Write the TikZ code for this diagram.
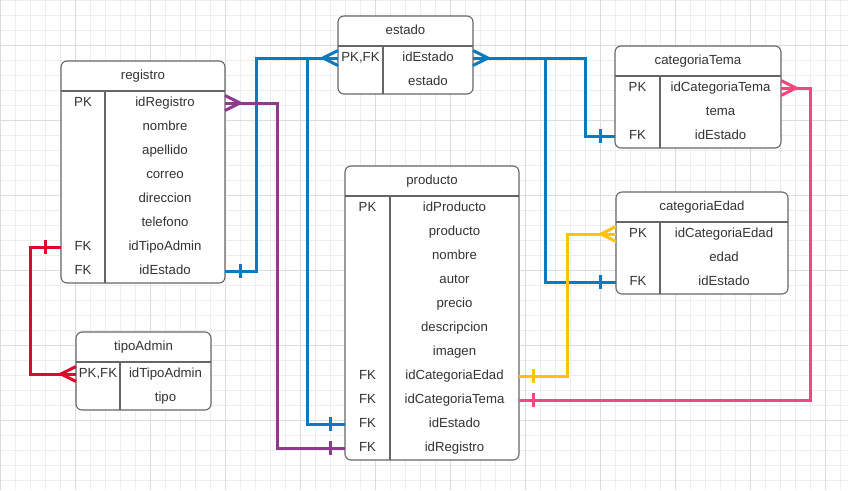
\documentclass[tikz,border=0pt]{standalone}
\usepackage{fontspec}
\setmainfont{Liberation Sans}
\usetikzlibrary{calc}
\definecolor{gridminor}{HTML}{EDEDED}
\definecolor{gridmajor}{HTML}{DCDCDC}
\definecolor{tblborder}{HTML}{666666}
\definecolor{txtcol}{HTML}{333333}
\definecolor{cblue}{HTML}{0A7BC0}
\definecolor{cpurple}{HTML}{8E3B8E}
\definecolor{cred}{HTML}{E2062C}
\definecolor{cpink}{HTML}{F2487D}
\definecolor{cyellow}{HTML}{FFC20E}
\newcommand{\ertable}[8]{%
  \pgfmathsetmacro{\tw}{#4-#2}%
  \pgfmathsetmacro{\th}{30+24*#8}%
  \node[tblbox, anchor=north west, minimum width=\tw pt, minimum height=\th pt] (#1) at (#2,#3) {};
  \draw[tblline] ({#2},{#3+30}) -- ({#4},{#3+30});
  \draw[tblline] ({#5},{#3+30}) -- ({#5},{#3+\th});
  \node[txt] (#1-title) at ({(#2+#4)/2},{#3+15-1.7}) {#6};
  \foreach \k/\t [count=\n] in {#7} {
    \node[txt] (#1-k\n) at ({(#2+#5)/2},{#3+30+24*\n-12-1.7}) {\k};
    \node[txt] (#1-f\n) at ({(#5+#4)/2},{#3+30+24*\n-12-1.7}) {\t};
  }
}
\newcommand{\barmk}[3]{\draw[conn,#1] ($(#2)+(#3,-7)$) -- ($(#2)+(#3,7)$);}
\newcommand{\crowmk}[3]{\draw[conn,#1] ($(#2)+(0,-7.5)$) -- ($(#2)+(#3,0)$) -- ($(#2)+(0,7.5)$);}
\begin{document}
\begin{tikzpicture}[x=1pt,y=-1pt,
  tblbox/.style={draw=tblborder, line width=1.1pt, fill=white, rounded corners=6pt, inner sep=0pt, outer sep=0pt},
  tblline/.style={draw=tblborder, line width=1.1pt},
  txt/.style={text=txtcol, font=\fontsize{13.2}{15}\selectfont, inner sep=0pt, text height=9.5pt, text depth=0pt},
  conn/.style={line width=3pt},
  minorline/.style={draw=gridminor, line width=0.9pt},
  majorline/.style={draw=gridmajor, line width=1pt}]
\useasboundingbox (0,0) rectangle (848,490);
\fill[white] (0,0) rectangle (848,490);
% grid
\foreach \x in {0,15,...,840} \draw[minorline] (\x,0) -- (\x,490);
\foreach \y in {0,15,...,480} \draw[minorline] (0,\y) -- (848,\y);
\foreach \x in {0,75,...,825} \draw[majorline] (\x,0) -- (\x,490);
\foreach \y in {45,120,...,420} \draw[majorline] (0,\y) -- (848,\y);
% tables
\ertable{registro}{61}{61}{225}{105}{registro}{PK/idRegistro,{}/nombre,{}/apellido,{}/correo,{}/direccion,{}/telefono,FK/idTipoAdmin,FK/idEstado}{8}
\ertable{estado}{338}{16}{473}{383}{estado}{{PK,FK}/idEstado,{}/estado}{2}
\ertable{catTema}{615}{46}{781}{660}{categoriaTema}{PK/idCategoriaTema,{}/tema,FK/idEstado}{3}
\ertable{catEdad}{616}{192}{788}{660}{categoriaEdad}{PK/idCategoriaEdad,{}/edad,FK/idEstado}{3}
\ertable{producto}{345}{166}{519}{390}{producto}{PK/idProducto,{}/producto,{}/nombre,{}/autor,{}/precio,{}/descripcion,{}/imagen,FK/idCategoriaEdad,FK/idCategoriaTema,FK/idEstado,FK/idRegistro}{11}
\ertable{tipoAdmin}{76}{332}{211}{120}{tipoAdmin}{{PK,FK}/idTipoAdmin,{}/tipo}{2}
% attachment points
\coordinate (regIdReg) at (225,103);
\coordinate (regIdTipo) at (61,247);
\coordinate (regIdEst) at (225,271);
\coordinate (estIdL) at (338,58);
\coordinate (estIdR) at (473,58);
\coordinate (ctIdCT) at (781,88);
\coordinate (ctIdEst) at (615,136);
\coordinate (ceIdCE) at (616,234);
\coordinate (ceIdEst) at (616,282);
\coordinate (taId) at (76,374);
\coordinate (prCE) at (519,376);
\coordinate (prCT) at (519,400);
\coordinate (prEst) at (345,424);
\coordinate (prReg) at (345,448);
% connectors
\draw[conn,cblue] (regIdEst) -- ++(31,0) |- (estIdL);
\draw[conn,cblue] (prEst) -- ++(-38,0) |- (estIdL);
\draw[conn,cblue] (estIdR) -- ++(72,0) |- (ceIdEst);
\draw[conn,cblue] (estIdR) -- ++(112,0) |- (ctIdEst);
\draw[conn,cpurple] (regIdReg) -- ++(52,0) |- (prReg);
\draw[conn,cred] (regIdTipo) -- ++(-31,0) |- (taId);
\draw[conn,cyellow] (prCE) -- ++(48,0) |- (ceIdCE);
\draw[conn,cpink] (prCT) -- ++(291,0) |- (ctIdCT);
% marks
\barmk{cblue}{regIdEst}{15}
\barmk{cblue}{prEst}{-15}
\barmk{cblue}{ceIdEst}{-16}
\barmk{cblue}{ctIdEst}{-15}
\barmk{cpurple}{prReg}{-15}
\barmk{cred}{regIdTipo}{-16}
\barmk{cyellow}{prCE}{14}
\barmk{cpink}{prCT}{14}
\crowmk{cblue}{estIdL}{-15}
\crowmk{cblue}{estIdR}{15}
\crowmk{cpurple}{regIdReg}{15}
\crowmk{cred}{taId}{-15}
\crowmk{cyellow}{ceIdCE}{-15}
\crowmk{cpink}{ctIdCT}{15}
\end{tikzpicture}
\end{document}
